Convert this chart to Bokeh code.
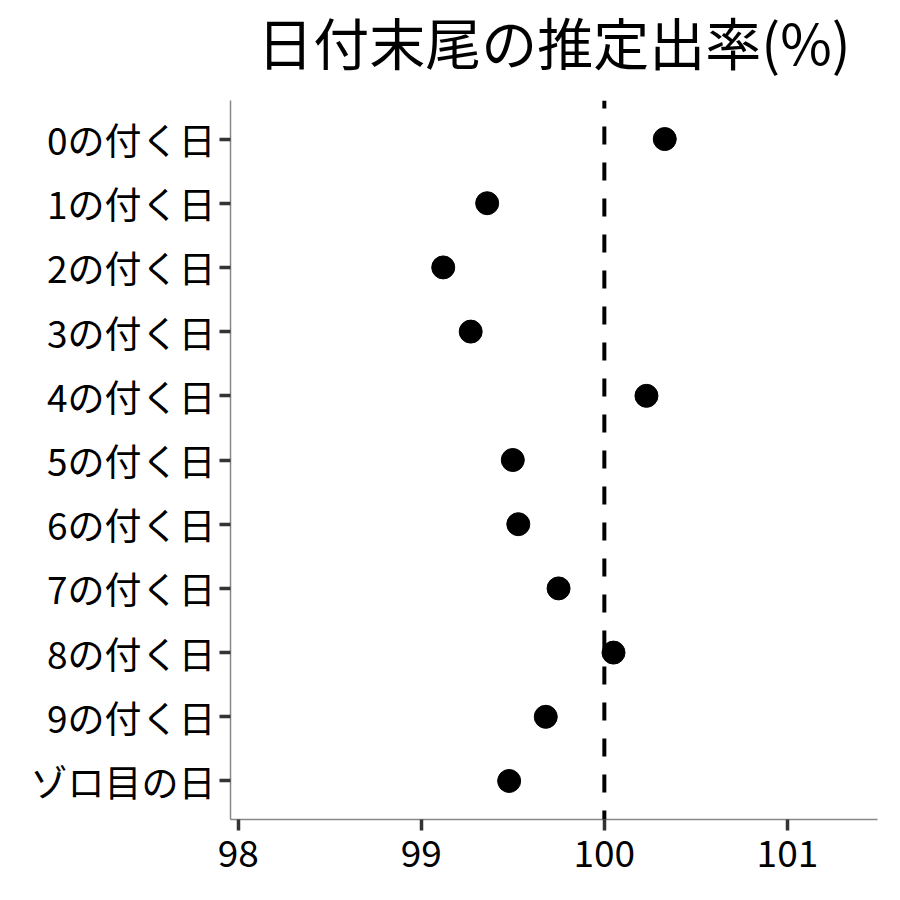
from bokeh.plotting import figure
from bokeh.layouts import column
from bokeh.models import Range1d, FixedTicker, Span, ColumnDataSource, Label
from bokeh.embed import file_html
from bokeh.resources import INLINE

# ---- data ----
categories = ["0の付く日", "1の付く日", "2の付く日", "3の付く日", "4の付く日",
              "5の付く日", "6の付く日", "7の付く日", "8の付く日", "9の付く日", "ゾロ目の日"]
rates = [100.33, 99.36, 99.12, 99.27, 100.23, 99.50, 99.53, 99.75, 100.05, 99.68, 99.48]
x_ticks = [98, 99, 100, 101]
reference_rate = 100
title_text = "日付末尾の推定出率(%)"

FONT = "Noto Sans CJK JP"
LEFT, RIGHT, BOTTOM = 230, 15, 75
FRAME_W, FRAME_H = 647, 719
TITLE_H = 100

n = len(categories)
ypos = [n - 1 - i for i in range(n)]  # first category at top
source = ColumnDataSource(dict(x=rates, y=ypos, cat=categories))

# ---- title strip (same horizontal borders as the main plot) ----
t = figure(output_backend="svg", toolbar_location=None,
           frame_width=FRAME_W, frame_height=TITLE_H,
           min_border_left=LEFT, min_border_right=RIGHT, min_border_top=0, min_border_bottom=0,
           x_range=Range1d(0, 1), y_range=Range1d(0, 1))
t.axis.visible = False
t.grid.visible = False
t.outline_line_color = None
t.background_fill_color = "white"
t.border_fill_color = "white"
t.add_layout(Label(x=FRAME_W / 2, y=60, x_units="screen", y_units="screen",
                   text=title_text, text_font=FONT, text_font_size="56px",
                   text_color="black", text_align="center", text_baseline="alphabetic"))

# ---- main plot ----
p = figure(output_backend="svg", toolbar_location=None,
           x_range=Range1d(97.958, 101.492), y_range=Range1d(-0.6, n - 1 + 0.6),
           frame_width=FRAME_W, frame_height=FRAME_H,
           min_border_left=LEFT, min_border_right=RIGHT, min_border_top=0,
           min_border_bottom=BOTTOM)

p.grid.visible = False
p.outline_line_color = None
p.background_fill_color = "white"
p.border_fill_color = "white"

p.xaxis.ticker = FixedTicker(ticks=x_ticks)
p.yaxis.ticker = FixedTicker(ticks=ypos)
p.yaxis.major_label_overrides = {yv: c for yv, c in zip(ypos, categories)}
for ax in (p.xaxis[0], p.yaxis[0]):
    ax.axis_line_color = "#888888"
    ax.axis_line_width = 1.5
    ax.major_tick_line_color = "#333333"
    ax.major_tick_line_width = 3.5
    ax.major_tick_in = 0
    ax.major_tick_out = 11
    ax.minor_tick_line_color = None
    ax.major_label_text_font = FONT
    ax.major_label_text_font_size = "37px"
    ax.major_label_text_color = "black"
p.xaxis.major_label_standoff = 9
p.yaxis.major_label_standoff = 4

span = Span(location=reference_rate, dimension="height", line_color="black",
            line_width=4, line_dash="18 18", line_dash_offset=10)
p.add_layout(span)

p.scatter("x", "y", source=source, size=23, fill_color="black", line_color="black")

layout = column(t, p, spacing=0)
open("out.html", "w").write(file_html(layout, INLINE))
